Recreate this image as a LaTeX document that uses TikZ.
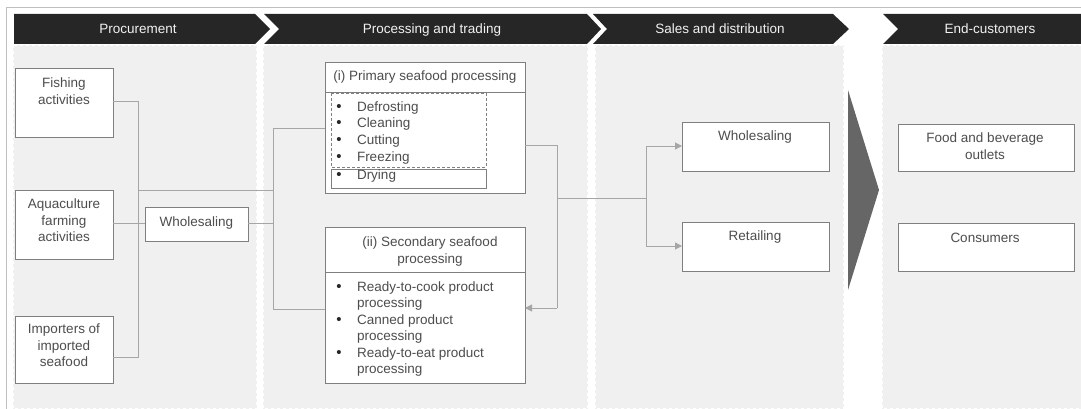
\documentclass[tikz,border=0pt]{standalone}
\usepackage{fontspec}
\setmainfont{Liberation Sans}
\usetikzlibrary{arrows.meta}
\definecolor{hdr}{HTML}{262626}
\definecolor{hdrtxt}{HTML}{F2F2F2}
\definecolor{panelfill}{HTML}{F0F0F0}
\definecolor{boxline}{HTML}{7F7F7F}
\definecolor{conn}{HTML}{A6A6A6}
\definecolor{txt}{HTML}{4D4D4D}
\definecolor{bulcol}{HTML}{262626}
\definecolor{trifill}{HTML}{666666}
\definecolor{framecol}{HTML}{BFBFBF}
\begin{document}
\begin{tikzpicture}[x=1pt,y=-1pt,
  every node/.style={font=\fontsize{13.5}{16.3}\selectfont, text=txt, inner sep=0pt, outer sep=0pt},
  box/.style={draw=boxline, fill=white, line width=0.9pt, anchor=north west},
  one/.style={text height=9.7pt, text depth=0pt},
  multi/.style={align=center, anchor=north},
  hdrshape/.style={fill=hdr, draw=none},
  hdrtext/.style={text=hdrtxt, text height=9.7pt, text depth=0pt},
  panel/.style={fill=panelfill, draw=white, line width=1.5pt, dash pattern=on 3pt off 3pt},
  conline/.style={draw=conn, line width=1pt},
  arr/.style={conline, -{Triangle[length=7pt,width=7pt]}, color=conn},
  bul/.style={one, anchor=center, text=bulcol, font=\fontsize{15}{16}\selectfont},
  item/.style={one, anchor=west},
  dashbox/.style={draw=boxline, line width=0.9pt, dash pattern=on 3pt off 2pt},
  solidbox/.style={draw=boxline, line width=0.9pt}
]
\useasboundingbox (0,0) rectangle (1081,409);
\clip (0,0) rectangle (1081,409);
% outer frame
\draw[framecol, line width=1pt] (6,8) rectangle (1100,430);
% panels
\path[panel] (13,45) rectangle (257,409);
\path[panel] (263,45) rectangle (588,409);
\path[panel] (595,45) rectangle (844,409);
\path[panel] (882,45) rectangle (1095,409);
% headers
\path[hdrshape] (14,14) -- (255,14) -- (270,29) -- (255,44) -- (14,44) -- cycle;
\path[hdrshape] (264,14) -- (587,14) -- (601,29) -- (587,44) -- (264,44) -- (279,29) -- cycle;
\path[hdrshape] (593,14) -- (833,14) -- (849,29) -- (833,44) -- (593,44) -- (607,29) -- cycle;
\path[hdrshape] (883,14) -- (1095,14) -- (1095,44) -- (883,44) -- (898,29) -- cycle;
\node[hdrtext] (h1) at (138,29) {Procurement};
\node[hdrtext] (h2) at (432,29) {Processing and trading};
\node[hdrtext] (h3) at (720,29) {Sales and distribution};
\node[hdrtext] (h4) at (990,29) {End-customers};
% big arrow
\path[fill=trifill] (848,90) -- (879,190) -- (848,290) -- cycle;
% procurement boxes
\node[box, minimum width=98pt, minimum height=69pt] (fish) at (15,68) {};
\node[multi] (fisht) at (64,78) {Fishing\\activities};
\node[box, minimum width=98pt, minimum height=69pt] (aqua) at (15,190) {};
\node[multi] (aquat) at (64,199) {Aquaculture\\farming\\activities};
\node[box, minimum width=98pt, minimum height=67pt] (imp) at (15,316) {};
\node[multi] (impt) at (64,324) {Importers of\\imported\\seafood};
\node[box, minimum width=103pt, minimum height=34pt] (whl) at (145,207) {};
\node[one] (whlt) at (196.5,222) {Wholesaling};
% coordinates for connectors
\coordinate (b1) at (138,102);
\coordinate (b2) at (138,357);
\coordinate (b3) at (138,190);
\coordinate (c1) at (273,129);
\coordinate (c2) at (273,309);
\coordinate (c3) at (273,190);
\coordinate (c4) at (273,223);
% primary box
\node[box, minimum width=200pt, minimum height=131pt] (prim) at (325,62) {};
\draw[solidbox] (325,92) -- (525,92);
\node[one] (primt) at (425,76) {(i) Primary seafood processing};
\draw[dashbox] (331,93) rectangle (486,167);
\draw[solidbox] (331,169) rectangle (486,188);
\foreach \yy/\tt [count=\i] in {107/Defrosting,123/Cleaning,140/Cutting,157/Freezing,175/Drying}{
  \node[bul] (pb\i) at (339,\yy) {\textbullet};
  \node[item] (pi\i) at (357,\yy) {\tt};
}
% secondary box
\node[box, minimum width=200pt, minimum height=156pt] (sec) at (325,227) {};
\draw[solidbox] (325,272) -- (525,272);
\node[multi] (sect) at (430,237) {(ii) Secondary seafood\\processing};
\foreach \yy in {287,320,353}{
  \node[bul] at (339,\yy) {\textbullet};
}
\node[item] (s1) at (357,287) {Ready-to-cook product};
\node[item] (s2) at (357,303) {processing};
\node[item] (s3) at (357,320) {Canned product};
\node[item] (s4) at (357,336) {processing};
\node[item] (s5) at (357,353) {Ready-to-eat product};
\node[item] (s6) at (357,369) {processing};
% sales boxes
\node[box, minimum width=147pt, minimum height=49pt] (wsl) at (682,122) {};
\node[one] (wslt) at (755,136) {Wholesaling};
\node[box, minimum width=147pt, minimum height=49pt] (ret) at (682,222) {};
\node[one] (rett) at (755,236) {Retailing};
% end boxes
\node[box, minimum width=176pt, minimum height=47pt] (food) at (898,124) {};
\node[multi] (foodt) at (985,133) {Food and beverage\\outlets};
\node[box, minimum width=176pt, minimum height=48pt] (cons) at (898,223) {};
\node[one] (const) at (985,238) {Consumers};
% connectors procurement
\draw[conline] (fish.east |- b1) -- (b1) -- (b2) -- (imp.east |- b2);
\draw[conline] (aqua.east |- c4) -- (whl.west |- c4);
\draw[conline] (b3) -- (c3);
\draw[conline] (whl.east |- c4) -- (c4);
\draw[conline] (prim.west |- c1) -- (c1) -- (c2) -- (sec.west |- c2);
% connectors processing -> sales
\coordinate (d1) at (557,145);
\coordinate (d2) at (557,308);
\coordinate (d3) at (557,198);
\coordinate (e1) at (646,198);
\coordinate (e2) at (646,146);
\coordinate (e3) at (646,246);
\draw[conline] (prim.east |- d1) -- (d1) -- (d2);
\draw[arr] (d2) -- (sec.east |- d2);
\draw[conline] (d3) -- (e1);
\draw[conline] (e2) -- (e3);
\draw[arr] (e2) -- (wsl.west |- e2);
\draw[arr] (e3) -- (ret.west |- e3);
\end{tikzpicture}
\end{document}
